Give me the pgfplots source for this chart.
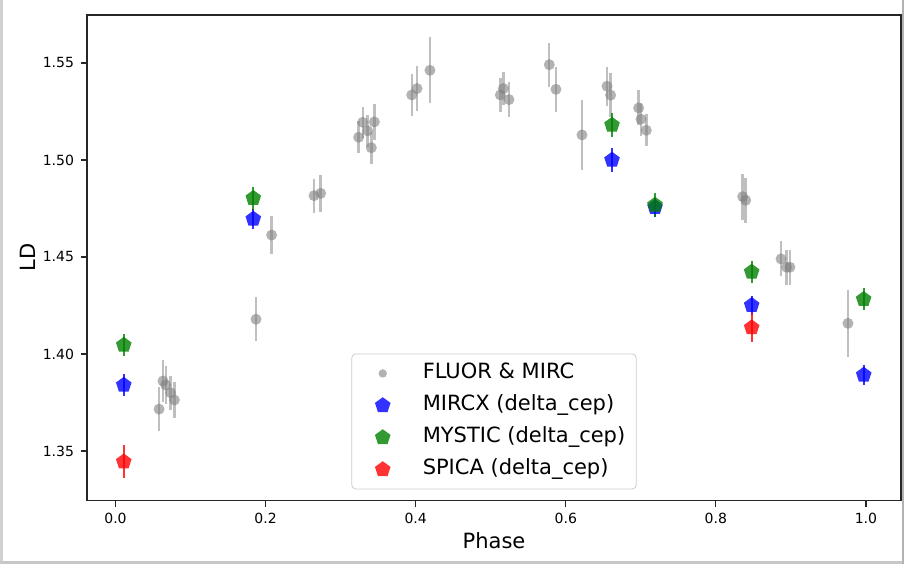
\documentclass[border=0pt]{standalone}
\usepackage{fontspec}
\setmainfont{DejaVu Sans}
\usepackage{pgfplots}
\pgfplotsset{compat=1.18}
\usepackage{pgfplotstable}

\pgfplotstableread{
x y e
0.0580 1.3716 0.0113
0.0633 1.3861 0.0107
0.0669 1.3840 0.0100
0.0735 1.3800 0.0088
0.0784 1.3763 0.0094
0.1872 1.4179 0.0114
0.2080 1.4613 0.0098
0.2645 1.4816 0.0088
0.2734 1.4828 0.0096
0.3240 1.5117 0.0083
0.3294 1.5194 0.0080
0.3360 1.5150 0.0083
0.3409 1.5063 0.0083
0.3449 1.5196 0.0092
0.3947 1.5335 0.0110
0.4018 1.5368 0.0116
0.4190 1.5462 0.0170
0.5128 1.5335 0.0088
0.5168 1.5368 0.0087
0.5243 1.5311 0.0090
0.5780 1.5491 0.0114
0.5869 1.5364 0.0116
0.6216 1.5129 0.0180
0.6549 1.5380 0.0100
0.6598 1.5334 0.0115
0.6971 1.5268 0.0090
0.7002 1.5210 0.0084
0.7073 1.5153 0.0082
0.8357 1.4811 0.0119
0.8397 1.4792 0.0117
0.8868 1.4490 0.0090
0.8943 1.4447 0.0090
0.8987 1.4447 0.0090
0.9760 1.4158 0.0172
}\fluor

\pgfplotstableread{
x y e
0.0110 1.3840 0.0056
0.1836 1.4696 0.0050
0.6616 1.5000 0.0060
0.7189 1.4756 0.0050
0.8477 1.4251 0.0050
0.9970 1.3892 0.0050
}\mircx

\pgfplotstableread{
x y e
0.0110 1.4046 0.0056
0.1836 1.4803 0.0060
0.6616 1.5180 0.0060
0.7189 1.4768 0.0060
0.8477 1.4423 0.0056
0.9969 1.4282 0.0057
}\mystic

\pgfplotstableread{
x y e
0.0110 1.3445 0.0086
0.8477 1.4136 0.0073
}\spica

\definecolor{mplgreen}{RGB}{0,128,0}

\begin{document}
\begin{tikzpicture}
\begin{axis}[
  scale only axis,
  width=407pt, height=242.75pt,
  xmin=-0.038, xmax=1.0467,
  ymin=1.3245, ymax=1.5747,
  axis line style={line width=0.8pt, black!85},
  xtick={0,0.2,0.4,0.6,0.8,1.0},
  ytick={1.35,1.40,1.45,1.50,1.55},
  xtick pos=lower, ytick pos=left,
  tick align=outside,
  major tick length=3pt,
  tick style={line width=0.6pt, black!85},
  /pgf/number format/assume math mode=true,
  tick label style={font=\fontsize{7}{8.4}\selectfont},
  xticklabel style={/pgf/number format/.cd, fixed, fixed zerofill, precision=1},
  yticklabel style={/pgf/number format/.cd, fixed, fixed zerofill, precision=2},
  xlabel={Phase}, ylabel={LD},
  label style={font=\fontsize{10.5}{12.6}\selectfont},
  xlabel style={at={(axis description cs:0.5,-0.0834)}, anchor=center},
  ylabel style={at={(axis description cs:-0.0725,0.5)}, anchor=center},
  legend style={
    at={(axis description cs:0.5,0.023)}, anchor=south,
    draw=black!20, rounded corners=2pt,
    font=\fontsize{10.5}{12}\selectfont,
    inner xsep=5.5pt, inner ysep=4.5pt,
    row sep=5.5pt, column sep=7.5pt,
    nodes={inner sep=0pt, text height=8pt, text depth=2.5pt},
  },
  legend cell align=left,
  legend image code/.code={\path[draw=none, fill=none] (-10pt,-4pt) rectangle (12.5pt,4pt); \draw plot coordinates {(0pt,0pt)};},
]
\addplot[only marks, mark=*, mark size=2.75pt,
  mark options={fill=gray, fill opacity=0.6, draw opacity=0},
  legend image post style={mark size=2.1pt},
  error bars/.cd, y dir=both, y explicit,
  error mark=none, error bar style={line width=1.2pt, gray, opacity=0.5}]
  table[x=x, y=y, y error=e] {\fluor};
\addlegendentry{FLUOR \& MIRC}

\addplot[only marks, mark=pentagon*, mark size=4.1pt,
  mark options={fill=blue, fill opacity=0.8, draw opacity=0},
  error bars/.cd, y dir=both, y explicit,
  error mark=none, error bar style={line width=1pt, blue, opacity=0.8}]
  table[x=x, y=y, y error=e] {\mircx};
\addlegendentry{MIRCX (delta\_cep)}

\addplot[only marks, mark=pentagon*, mark size=4.1pt,
  mark options={fill=mplgreen, fill opacity=0.8, draw opacity=0},
  error bars/.cd, y dir=both, y explicit,
  error mark=none, error bar style={line width=1pt, mplgreen, opacity=0.8}]
  table[x=x, y=y, y error=e] {\mystic};
\addlegendentry{MYSTIC (delta\_cep)}

\addplot[only marks, mark=pentagon*, mark size=4.1pt,
  mark options={fill=red, fill opacity=0.8, draw opacity=0},
  error bars/.cd, y dir=both, y explicit,
  error mark=none, error bar style={line width=1pt, red, opacity=0.8}]
  table[x=x, y=y, y error=e] {\spica};
\addlegendentry{SPICA (delta\_cep)}
\end{axis}
\fill[black!18] (-43.5pt,-31.75pt) rectangle (-42pt,250.25pt);
\fill[black!22] (-43.5pt,-31.75pt) rectangle (408.5pt,-30.25pt);
\fill[black!30] (407.4pt,-31.75pt) rectangle (408.5pt,250.25pt);
\pgfresetboundingbox
\path[use as bounding box] (-43.5pt,-31.75pt) rectangle (408.5pt,250.25pt);
\end{tikzpicture}
\end{document}
